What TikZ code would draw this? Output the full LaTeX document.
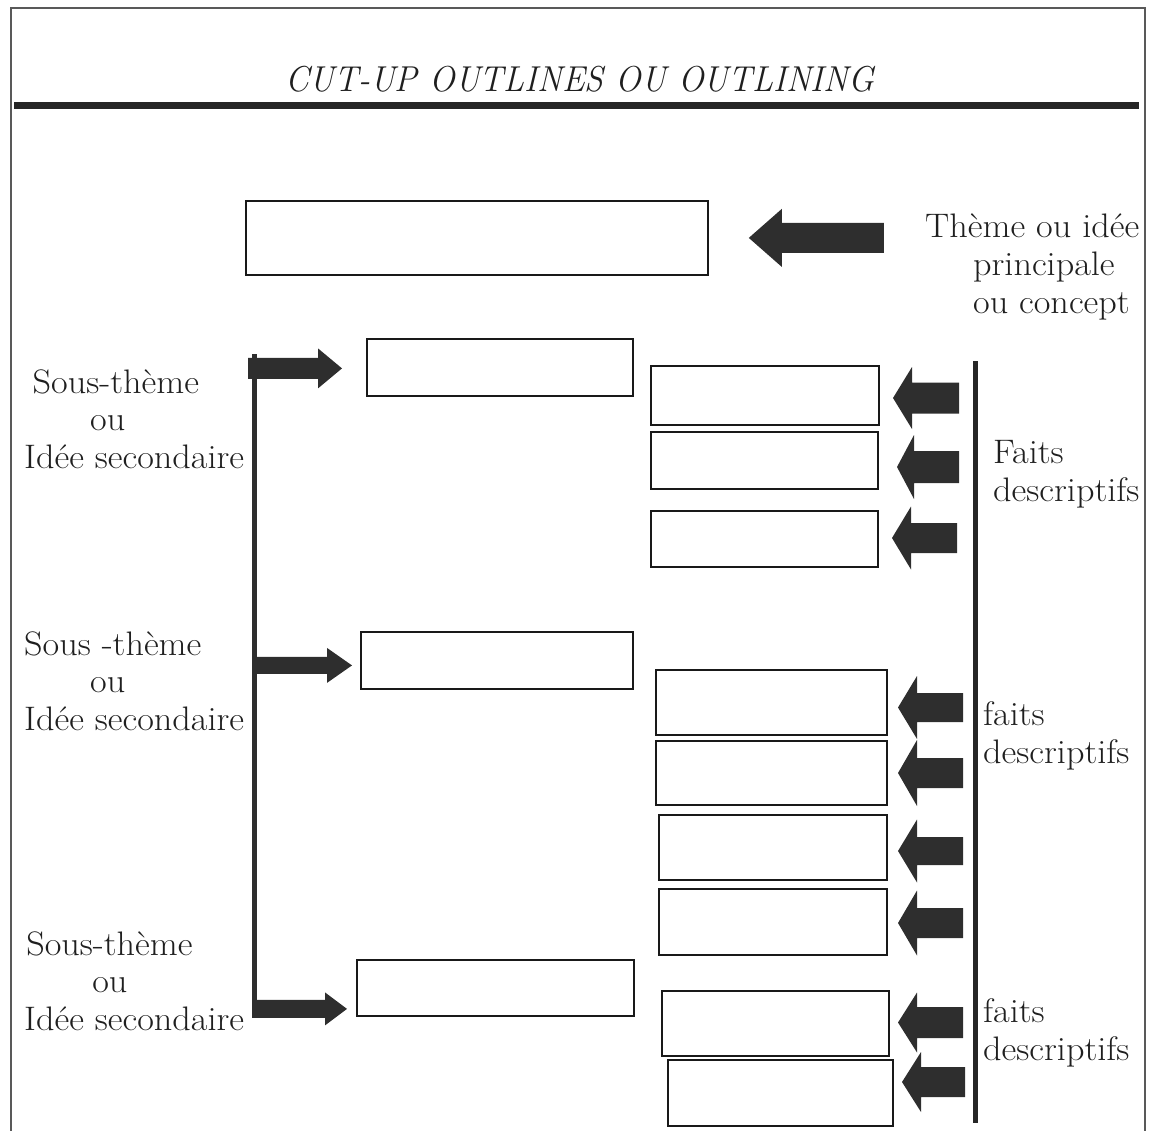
\documentclass[tikz,border=0pt]{standalone}
\usepackage{fontspec}
\begin{document}
\begin{tikzpicture}[x=1pt,y=-1pt,
  box/.style={draw=black!90, line width=1.8pt, inner sep=0pt, anchor=north west},
  lbl/.style={font=\fontsize{34}{37.5}\selectfont, xscale=1.065, inner sep=0pt, align=left, anchor=base west, text=black!88},
  arrowfill/.style={fill=black!82},
  frame/.style={draw=black!65, line width=1.6pt}]
\useasboundingbox (0,0) rectangle (1150,1131);

% fat block arrow: #1 tip, #2 direction (1 right, -1 left), #3 length,
% #4 head length, #5 half shaft, #6 half head
\newcommand{\fatarrow}[6]{%
  \begin{scope}[shift={(#1)}, xscale=#2]
    \fill[arrowfill] (0,0) -- (-#4,-#6) -- (-#4,-#5) -- (-#3,-#5)
      -- (-#3,#5) -- (-#4,#5) -- (-#4,#6) -- cycle;
  \end{scope}}

% outer frame and title rule
\draw[frame] (11,1131) -- (11,8) -- (1145,8) -- (1145,1131);
\fill[black!85] (14,102) rectangle (1139,109);
\node[font=\fontsize{36}{40}\selectfont\itshape, xscale=0.948, anchor=base, inner sep=0pt, text=black!88]
  (title) at (580,92) {CUT-UP OUTLINES OU OUTLINING};

% main idea
\node[box, minimum width=462pt, minimum height=74pt] (main) at (245,200) {};
\fatarrow{[xshift=40pt]main.east}{-1}{135}{33}{15}{29}
\node[lbl] (theme) at (925,313) {Thème ou idée\\\hspace*{45pt}principale\\\hspace*{45pt}ou concept};

% sub-themes
\node[box, minimum width=266pt, minimum height=57pt] (s1) at (366,338) {};
\node[box, minimum width=272pt, minimum height=57pt] (s2) at (360,631) {};
\node[box, minimum width=277pt, minimum height=56pt] (s3) at (356,959) {};

\fill[arrowfill] (251.5,354) rectangle (256.5,1017);
\fatarrow{[xshift=-24pt,yshift=-1pt]s1.west}{1}{94}{24}{10.5}{20}
\fatarrow{[xshift=-8pt,yshift=-5pt]s2.west}{1}{99}{25}{8.5}{17.5}
\fatarrow{[xshift=-9pt,yshift=-21pt]s3.west}{1}{95}{22}{9}{16.5}

\node[lbl] (t1) at (24,468) {\hspace*{8pt}Sous-thème\\\hspace*{62pt}ou\\Idée secondaire};
\node[lbl] (t2) at (24,730) {Sous -thème\\\hspace*{62pt}ou\\Idée secondaire};
\node[lbl] (t3) at (24,1030) {\hspace*{2pt}Sous-thème\\\hspace*{64pt}ou\\Idée secondaire};

% descriptive facts
\node[box, minimum width=228pt, minimum height=59pt] (f1) at (650,365) {};
\node[box, minimum width=227pt, minimum height=57pt] (f2) at (650,431) {};
\node[box, minimum width=227pt, minimum height=56pt] (f3) at (650,510) {};
\node[box, minimum width=231pt, minimum height=65pt] (g1) at (655,669) {};
\node[box, minimum width=231pt, minimum height=64pt] (g2) at (655,740) {};
\node[box, minimum width=228pt, minimum height=65pt] (g3) at (658,814) {};
\node[box, minimum width=228pt, minimum height=66pt] (g4) at (658,888) {};
\node[box, minimum width=227pt, minimum height=65pt] (h1) at (661,990) {};
\node[box, minimum width=225pt, minimum height=66pt] (h2) at (667,1059) {};

\fill[black!85] (972.5,361) rectangle (977.5,1123);

\fatarrow{893,398}{-1}{66}{19}{15.5}{31}
\fatarrow{897,467}{-1}{62}{17}{16}{32}
\fatarrow{892,538}{-1}{65}{19}{15}{31.5}
\fatarrow{898,707.5}{-1}{65}{19}{14.5}{31.5}
\fatarrow{898,773}{-1}{65}{19}{15}{33}
\fatarrow{898,851}{-1}{65}{19}{14}{31.5}
\fatarrow{898,923}{-1}{65}{19}{15}{32.5}
\fatarrow{898,1022.5}{-1}{65}{19}{15.5}{30}
\fatarrow{902,1082}{-1}{63}{19}{15}{30}

\node[lbl] (fa) at (993,501) {Faits\\descriptifs};
\node[lbl] (fb) at (983,763) {faits\\descriptifs};
\node[lbl] (fc) at (983,1060) {faits\\descriptifs};
\end{tikzpicture}
\end{document}
